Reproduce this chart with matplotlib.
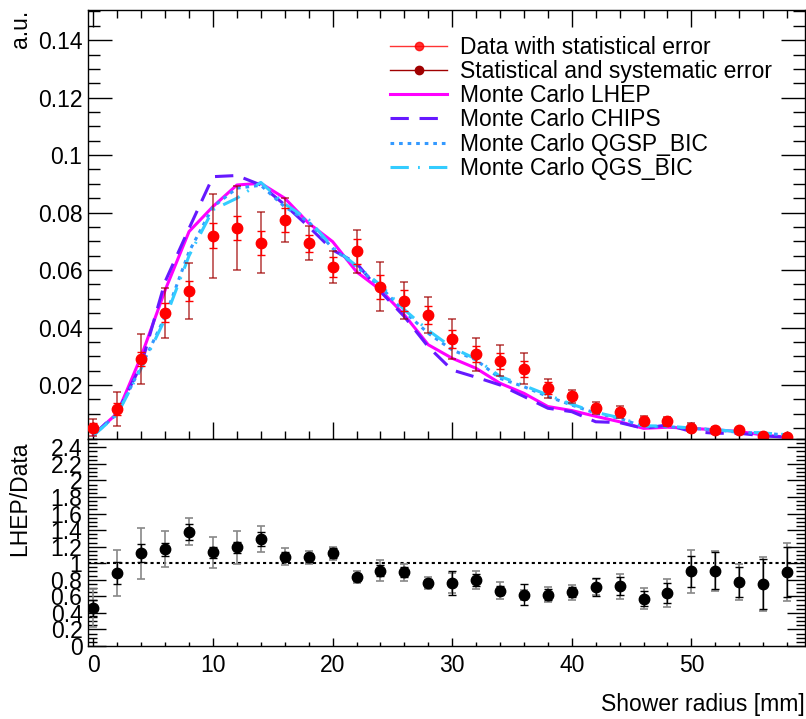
import numpy as np
import matplotlib
matplotlib.use("Agg")
import matplotlib.pyplot as plt
from matplotlib.ticker import MultipleLocator, FixedLocator, FuncFormatter
from matplotlib.lines import Line2D

plt.rcParams['font.family'] = ['Liberation Sans', 'DejaVu Sans']

# ---------------- data ----------------
radius = [0, 2, 4, 6, 8, 10, 12, 14, 16, 18, 20, 22, 24, 26, 28, 30,
          32, 34, 36, 38, 40, 42, 44, 46, 48, 50, 52, 54, 56, 58]

data_val = [0.0052, 0.0116, 0.0291, 0.0451, 0.0527, 0.0720, 0.0746, 0.0695,
            0.0774, 0.0693, 0.0611, 0.0665, 0.0542, 0.0494, 0.0444, 0.0361,
            0.0307, 0.0285, 0.0256, 0.0189, 0.0160, 0.0120, 0.0107, 0.0076,
            0.0073, 0.0052, 0.0044, 0.0042, 0.0021, 0.0018]
data_stat = [0.0014, 0.0021, 0.0025, 0.0033, 0.0036, 0.0042, 0.0042, 0.0041,
             0.0041, 0.0030, 0.0035, 0.0043, 0.0042, 0.0035, 0.0031, 0.0031,
             0.0028, 0.0028, 0.0028, 0.0021, 0.0014, 0.0014, 0.0014, 0.0012,
             0.0012, 0.0010, 0.0008, 0.0008, 0.0005, 0.0008]
data_tot = [0.0031, 0.0059, 0.0087, 0.0087, 0.0099, 0.0146, 0.0146, 0.0106,
            0.0077, 0.0059, 0.0056, 0.0075, 0.0085, 0.0064, 0.0062, 0.0070,
            0.0058, 0.0055, 0.0054, 0.0033, 0.0021, 0.0021, 0.0021, 0.0017,
            0.0017, 0.0014, 0.0010, 0.0010, 0.0007, 0.0010]

mc_lhep = [0.0026, 0.0102, 0.0300, 0.0530, 0.0734, 0.0821, 0.0896, 0.0902,
           0.0850, 0.0763, 0.0699, 0.0594, 0.0531, 0.0444, 0.0340, 0.0293,
           0.0258, 0.0206, 0.0171, 0.0125, 0.0111, 0.0091, 0.0072, 0.0049,
           0.0053, 0.0049, 0.0044, 0.0038, 0.0026, 0.0018]
mc_chips = [0.0025, 0.0105, 0.0270, 0.0560, 0.0745, 0.0925, 0.0929, 0.0896,
            0.0827, 0.0751, 0.0670, 0.0624, 0.0525, 0.0438, 0.0333, 0.0252,
            0.0227, 0.0200, 0.0160, 0.0119, 0.0107, 0.0072, 0.0069, 0.0049,
            0.0061, 0.0038, 0.0032, 0.0032, 0.0023, 0.0018]
mc_qgsp = [0.0025, 0.0100, 0.0264, 0.0438, 0.0664, 0.0820, 0.0885, 0.0895,
           0.0820, 0.0768, 0.0676, 0.0612, 0.0542, 0.0455, 0.0380, 0.0322,
           0.0287, 0.0223, 0.0194, 0.0160, 0.0130, 0.0102, 0.0084, 0.0055,
           0.0055, 0.0049, 0.0044, 0.0035, 0.0032, 0.0026]
mc_qgs = [0.0024, 0.0098, 0.0258, 0.0430, 0.0650, 0.0810, 0.0850, 0.0905,
          0.0830, 0.0775, 0.0680, 0.0615, 0.0548, 0.0462, 0.0390, 0.0330,
          0.0290, 0.0230, 0.0198, 0.0165, 0.0133, 0.0105, 0.0086, 0.0058,
          0.0057, 0.0050, 0.0045, 0.0037, 0.0033, 0.0027]

ratio_val = [0.46, 0.88, 1.12, 1.17, 1.38, 1.13, 1.19, 1.29, 1.08, 1.07,
             1.12, 0.83, 0.91, 0.89, 0.76, 0.76, 0.80, 0.67, 0.62, 0.62,
             0.65, 0.71, 0.72, 0.57, 0.64, 0.90, 0.91, 0.77, 0.75, 0.89]
ratio_stat = [0.10, 0.13, 0.11, 0.08, 0.095, 0.066, 0.065, 0.085, 0.056, 0.05,
              0.06, 0.04, 0.067, 0.06, 0.05, 0.14, 0.07, 0.06, 0.125, 0.07,
              0.06, 0.11, 0.11, 0.09, 0.115, 0.19, 0.22, 0.18, 0.30, 0.30]
ratio_tot = [0.23, 0.28, 0.31, 0.22, 0.16, 0.19, 0.20, 0.16, 0.10, 0.08,
             0.08, 0.07, 0.125, 0.105, 0.077, 0.12, 0.11, 0.105, 0.06, 0.09,
             0.09, 0.10, 0.155, 0.127, 0.17, 0.26, 0.24, 0.22, 0.33, 0.35]

labels = ["Data with statistical error", "Statistical and systematic error",
          "Monte Carlo LHEP", "Monte Carlo CHIPS", "Monte Carlo QGSP_BIC",
          "Monte Carlo QGS_BIC"]

# ---------------- figure ----------------
W, H = 806, 719
fig = plt.figure(figsize=(W / 100, H / 100), dpi=100)

def rect(l, t, r, b):
    return [l / W, 1 - b / H, (r - l) / W, (b - t) / H]

ax1 = fig.add_axes(rect(88, 10, 805, 439))
ax2 = fig.add_axes(rect(88, 439, 805, 646))

FS = 16.5
c_lhep = '#ff00ff'
c_chips = '#6619ff'
c_qgsp = '#3399ff'
c_qgs = '#33ccff'

ax1.plot(radius, mc_lhep, color=c_lhep, lw=2.2, zorder=3)
ax1.plot(radius, mc_chips, color=c_chips, lw=2.2, ls=(0, (6, 3.5)), zorder=3)
ax1.plot(radius, mc_qgsp, color=c_qgsp, lw=2.2, ls=(0, (1.2, 1.6)), zorder=3)
ax1.plot(radius, mc_qgs, color=c_qgs, lw=2.2, ls=(0, (6, 3, 0.6, 3)), zorder=3)

ax1.errorbar(radius, data_val, yerr=data_tot, fmt='none', ecolor='#a00000',
             elinewidth=1.2, capsize=3, capthick=1.2, alpha=0.7, zorder=4)
ax1.errorbar(radius, data_val, yerr=data_stat, fmt='o', color='#ff0000',
             ms=7.5, ecolor='#ff0000', elinewidth=1.0, capsize=3, capthick=1.0,
             zorder=5)

ax1.set_xlim(-0.45, 59.5)
ax1.set_ylim(0.0012, 0.1505)

ax2.errorbar(radius, ratio_val, yerr=ratio_tot, fmt='none', ecolor='#888888',
             elinewidth=1.2, capsize=3, capthick=1.2, zorder=3)
ax2.errorbar(radius, ratio_val, yerr=ratio_stat, fmt='o', color='black',
             ms=7.5, ecolor='black', elinewidth=1.0, capsize=3, capthick=1.0,
             zorder=4)
ax2.axhline(1.0, color='black', lw=1.5, ls=(0, (1.5, 1.5)), zorder=2)
ax2.set_xlim(-0.45, 59.5)
ax2.set_ylim(0, 2.5)

# ticks
for ax in (ax1, ax2):
    ax.xaxis.set_major_locator(MultipleLocator(10))
    ax.xaxis.set_minor_locator(MultipleLocator(2))
    for s in ax.spines.values():
        s.set_linewidth(1.0)

ax1.yaxis.set_major_locator(FixedLocator([0.02, 0.04, 0.06, 0.08, 0.1, 0.12, 0.14]))
ax1.yaxis.set_minor_locator(MultipleLocator(0.005))
ax1.yaxis.set_major_formatter(FuncFormatter(lambda v, p: ('%g' % round(v, 3))))
ax1.tick_params(axis='x', which='major', direction='in', length=12, top=True,
                labelbottom=False, width=1)
ax1.tick_params(axis='x', which='minor', direction='in', length=6, top=True, width=1)
ax1.tick_params(axis='y', which='major', direction='in', length=17, right=True,
                labelsize=FS, pad=4, width=1)
ax1.tick_params(axis='y', which='minor', direction='in', length=8.5, right=True, width=1)

ax2.yaxis.set_major_locator(MultipleLocator(0.2))
ax2.yaxis.set_minor_locator(MultipleLocator(0.05))
ax2.yaxis.set_major_formatter(FuncFormatter(lambda v, p: ('%g' % round(v, 2)) if v < 2.45 else ''))
ax2.tick_params(axis='x', which='major', direction='in', length=6, labelsize=FS,
                pad=6, width=1)
ax2.tick_params(axis='x', which='minor', direction='in', length=3, width=1)
ax2.tick_params(axis='y', which='major', direction='in', length=13, right=True,
                labelsize=FS, pad=4, width=1)
ax2.tick_params(axis='y', which='minor', direction='in', length=6.5, right=True, width=1)

# titles
fig.text(20 / W, 1 - 10 / H, "a.u.", fontsize=FS, ha='center', va='top', rotation=90)
fig.text(20 / W, 1 - 442 / H, "LHEP/Data", fontsize=FS, ha='center', va='top', rotation=90)
fig.text(805 / W, 1 - 705 / H, "Shower radius [mm]", fontsize=FS, ha='right', va='center')

# legend
handles = [
    Line2D([], [], color='#ff0000', lw=1.0, marker='o', ms=6, alpha=0.8),
    Line2D([], [], color='#a00000', lw=1.0, marker='o', ms=6),
    Line2D([], [], color=c_lhep, lw=2.2),
    Line2D([], [], color=c_chips, lw=2.2, ls=(0, (6, 3.5))),
    Line2D([], [], color=c_qgsp, lw=2.2, ls=(0, (1.2, 1.6))),
    Line2D([], [], color=c_qgs, lw=2.2, ls=(0, (6, 3, 0.6, 3))),
]
leg = ax1.legend(handles, labels, loc='upper left', bbox_to_anchor=(390 / W, 1 - 36 / H),
                 bbox_transform=fig.transFigure, frameon=False, fontsize=FS,
                 handlelength=2.5, handletextpad=0.55, labelspacing=0.05,
                 borderpad=0, borderaxespad=0)

fig.savefig("out.png", dpi=100)
